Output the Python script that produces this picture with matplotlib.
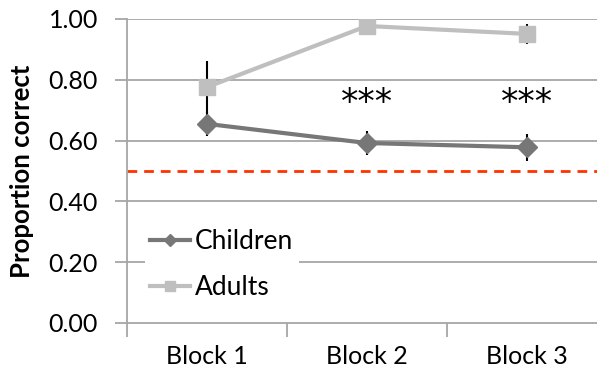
import numpy as np
import matplotlib.pyplot as plt

# Values
blocks = ['Block 1', 'Block 2', 'Block 3']
children = [0.655, 0.592, 0.578]
children_err = [0.040, 0.041, 0.045]
adults = [0.776, 0.977, 0.951]
adults_err = [0.086, 0.010, 0.032]
chance = 0.5
sig_labels = ['', '***', '***']
sig_y = 0.725

plt.rcParams['font.family'] = ['Lato', 'DejaVu Sans']

fig = plt.figure(figsize=(5.97, 3.83), dpi=100)
# plot area runs from x=127 to past the right edge, like the original
ax = fig.add_axes([127 / 597, (383 - 323) / 383, 480 / 597, 304 / 383])

x = np.arange(len(blocks))
grid_c = '#a6a6a6'

for yv in np.arange(0.2, 1.01, 0.2):
    ax.axhline(yv, color=grid_c, lw=1.3, zorder=0)

ax.errorbar(x, children, yerr=children_err, fmt='none', ecolor='black', elinewidth=1.5, zorder=2)
ax.errorbar(x, adults, yerr=adults_err, fmt='none', ecolor='black', elinewidth=1.5, zorder=2)

ax.plot(x, children, color='#777777', lw=3, marker='D', ms=10, label='Children', zorder=3)
ax.plot(x, adults, color='#bfbfbf', lw=3, marker='s', ms=11, label='Adults', zorder=3)

ax.axhline(chance, color='#ff3300', lw=2, ls=(0, (3.5, 2.5)), zorder=1)

for xi, s in zip(x, sig_labels):
    if s:
        ax.text(xi, sig_y, s, ha='center', va='center', fontsize=25,
                family='DejaVu Sans')

ax.set_xlim(-0.5, 2.5)
ax.set_ylim(0, 1.0)
ax.set_yticks(np.arange(0, 1.01, 0.2))
ax.set_yticklabels(['%.2f' % v for v in np.arange(0, 1.01, 0.2)], fontsize=18)
ax.set_xticks([-0.5, 0.5, 1.5])
ax.set_xticklabels([])
for xi, b in zip(x, blocks):
    ax.text(xi, -0.11, b, ha='center', va='center', fontsize=18, transform=ax.transData)

ax.tick_params(axis='y', length=9, width=1.3, color=grid_c, pad=12)
ax.tick_params(axis='x', length=10, width=1.3, color=grid_c)

for side in ['top', 'right']:
    ax.spines[side].set_visible(False)
for side in ['left', 'bottom']:
    ax.spines[side].set_color(grid_c)
    ax.spines[side].set_linewidth(1.3)

ax.set_ylabel('Proportion correct', fontsize=18.5, fontweight='bold', labelpad=10)

leg = ax.legend(loc='lower left', bbox_to_anchor=(0.01, 0.015), frameon=True, fontsize=19,
                handlelength=1.5, handletextpad=0.2, borderpad=0.2, labelspacing=0.8,
                markerscale=0.6, fancybox=False)
leg.get_frame().set_edgecolor('none')
leg.get_frame().set_facecolor('white')
leg.get_frame().set_alpha(1)

fig.savefig('out.png', dpi=100)
